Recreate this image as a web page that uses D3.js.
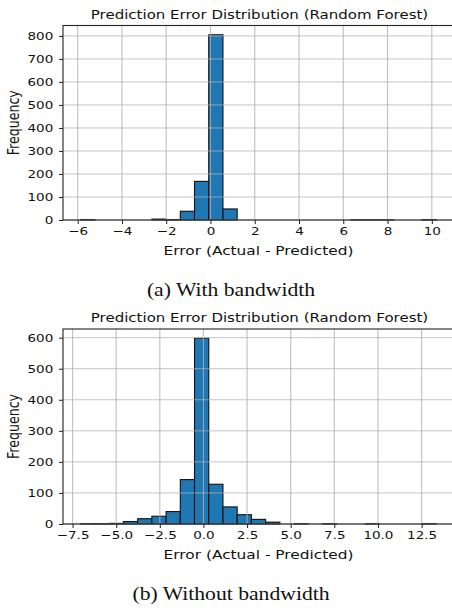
<!DOCTYPE html>
<html>
<head>
<meta charset="utf-8">
<script src="https://cdn.jsdelivr.net/npm/d3@7"></script>
<style>
  body { margin: 0; background: #fff; }
  svg text { font-family: "DejaVu Sans", sans-serif; fill: #111; }
  .caption { font-family: "Liberation Serif", "Times New Roman", serif; }
</style>
</head>
<body>
<svg id="fig" width="452" height="608"></svg>
<script>
// histogram (a): with bandwidth, 25 bins between min and max error
const topRange = [-5.86, 10.2];
const topCounts = [2, 0, 0, 0, 0, 4, 2, 38, 168, 805, 48, 0, 0, 0, 0, 0, 0, 0, 0, 1, 1, 1, 0, 0, 2];
const topXTicks = [-6, -4, -2, 0, 2, 4, 6, 8, 10];
const topYTicks = [0, 100, 200, 300, 400, 500, 600, 700, 800];

// histogram (b): without bandwidth
const botRange = [-7.03, 13.34];
const botCounts = [1, 1, 2, 8, 17, 25, 40, 143, 598, 128, 55, 30, 15, 6, 0, 1, 0, 1, 0, 0, 1, 0, 0, 0, 1];
const botXTicks = [-7.5, -5.0, -2.5, 0.0, 2.5, 5.0, 7.5, 10.0, 12.5];
const botYTicks = [0, 100, 200, 300, 400, 500, 600];

const titleText = "Prediction Error Distribution (Random Forest)";
const xLabelText = "Error (Actual - Predicted)";
const yLabelText = "Frequency";
const captions = ["(a) With bandwidth", "(b) Without bandwidth"];

const SX = 1.25; // the figure image is stretched sideways

const svg = d3.select("#fig");

// move x/y into a transform so the glyphs can be widened
function widen(sel, sx) {
    sel.each(function() {
        const t = d3.select(this);
        const x = +t.attr("x") || 0;
        const y = +t.attr("y") || 0;
        t.attr("x", 0).attr("y", 0)
            .attr("transform", `translate(${x},${y}) scale(${sx},1)`);
    });
}

function drawPanel(opts) {
    const { range, counts, xTicks, yTicks, left, right, top, bottom, fmt, caption, captionY } = opts;
    const n = counts.length;
    const w = (range[1] - range[0]) / n;
    const bins = counts.map((c, i) => ({ x0: range[0] + i * w, x1: range[0] + (i + 1) * w, c }));
    const pad = (range[1] - range[0]) * 0.05;
    const ymax = d3.max(counts) * 1.05;

    const x = d3.scaleLinear().domain([range[0] - pad, range[1] + pad]).range([left, right]);
    const y = d3.scaleLinear().domain([0, ymax]).range([bottom, top]);

    const g = svg.append("g");

    g.selectAll(".bar")
        .data(bins)
        .enter()
        .append("rect")
        .attr("x", d => x(d.x0))
        .attr("y", d => y(d.c))
        .attr("width", d => x(d.x1) - x(d.x0))
        .attr("height", d => bottom - y(d.c))
        .attr("fill", "#1f77b4")
        .attr("stroke", "#111")
        .attr("stroke-width", 1.1);

    // grid on top of bars, like matplotlib default
    g.append("g")
        .selectAll("line")
        .data(xTicks)
        .enter()
        .append("line")
        .attr("x1", d => x(d)).attr("x2", d => x(d))
        .attr("y1", top).attr("y2", bottom)
        .attr("stroke", "#b0b0b0").attr("stroke-opacity", 0.75).attr("stroke-width", 1.2);
    g.append("g")
        .selectAll("line")
        .data(yTicks)
        .enter()
        .append("line")
        .attr("x1", left).attr("x2", right)
        .attr("y1", d => y(d)).attr("y2", d => y(d))
        .attr("stroke", "#b0b0b0").attr("stroke-opacity", 0.75).attr("stroke-width", 1);

    // frame
    g.append("rect")
        .attr("x", left).attr("y", top)
        .attr("width", right - left).attr("height", bottom - top)
        .attr("fill", "none").attr("stroke", "#222").attr("stroke-width", 1.1);

    const xAxis = g.append("g")
        .attr("transform", `translate(0,${bottom})`)
        .call(d3.axisBottom(x).tickValues(xTicks).tickSize(4).tickPadding(3.5)
            .tickFormat(d => fmt(d).replace("-", "\u2212")));
    xAxis.select(".domain").remove();
    xAxis.selectAll("line").attr("stroke", "#222");
    xAxis.selectAll("text").style("font-size", "10.8px").attr("fill", "#111").call(widen, SX);

    const yAxis = g.append("g")
        .attr("transform", `translate(${left},0)`)
        .call(d3.axisLeft(y).tickValues(yTicks).tickSize(4).tickPadding(5.7));
    yAxis.select(".domain").remove();
    yAxis.selectAll("line").attr("stroke", "#222");
    yAxis.selectAll("text").style("font-size", "10.8px").attr("fill", "#111").call(widen, SX);

    g.append("text")
        .attr("x", (left + right) / 2 + 1).attr("y", top - 7)
        .attr("text-anchor", "middle")
        .style("font-size", "12px")
        .text(titleText)
        .call(widen, SX);

    g.append("text")
        .attr("x", (left + right) / 2).attr("y", bottom + 35)
        .attr("text-anchor", "middle")
        .style("font-size", "12.3px")
        .text(xLabelText)
        .call(widen, SX);

    // rotated label: widening acts along its own y
    g.append("text")
        .attr("transform", `translate(19,${(top + bottom) / 2}) rotate(-90) scale(1,${SX})`)
        .attr("text-anchor", "middle")
        .style("font-size", "12.6px")
        .text(yLabelText);

    svg.append("text")
        .attr("class", "caption")
        .attr("x", 231).attr("y", captionY)
        .attr("text-anchor", "middle")
        .style("font-size", "19px")
        .text(caption)
        .call(widen, 1.14);
}

drawPanel({
    range: topRange, counts: topCounts, xTicks: topXTicks, yTicks: topYTicks,
    left: 63, right: 454, top: 25.5, bottom: 220, fmt: d3.format("d"),
    caption: captions[0], captionY: 296
});

drawPanel({
    range: botRange, counts: botCounts, xTicks: botXTicks, yTicks: botYTicks,
    left: 63, right: 454, top: 329, bottom: 524, fmt: d3.format(".1f"),
    caption: captions[1], captionY: 600
});
</script>
</body>
</html>
